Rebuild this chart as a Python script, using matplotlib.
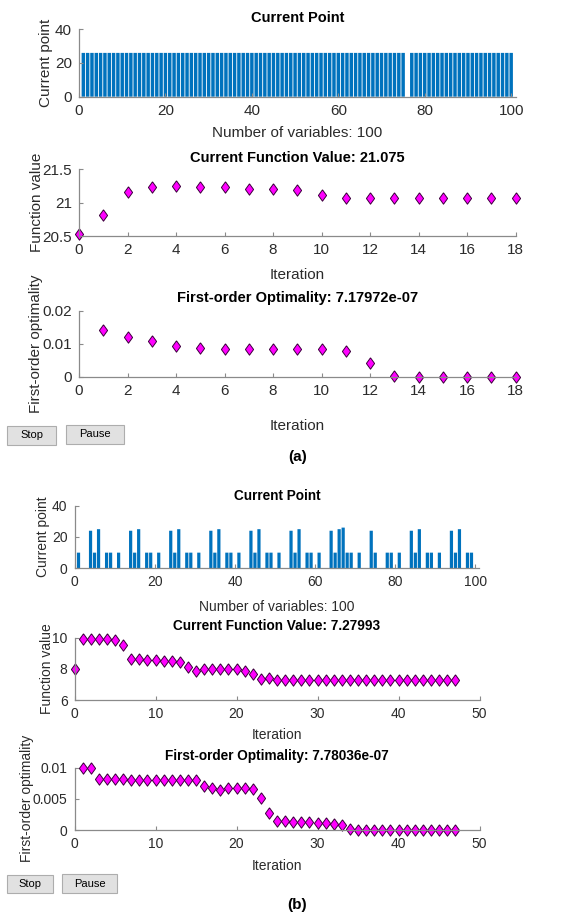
import matplotlib
matplotlib.use("Agg")
import matplotlib.pyplot as plt
from matplotlib.patches import Rectangle
from matplotlib.ticker import FuncFormatter
import numpy as np

# ---- run (a) ----
point_a = [
    26, 26, 26, 26, 26, 26, 26, 26, 26, 26,
    26, 26, 26, 26, 26, 26, 26, 26, 26, 26,
    26, 26, 26, 26, 26, 26, 26, 26, 26, 26,
    26, 26, 26, 26, 26, 26, 26, 26, 26, 26,
    26, 26, 26, 26, 26, 26, 26, 26, 26, 26,
    26, 26, 26, 26, 26, 26, 26, 26, 26, 26,
    26, 26, 26, 26, 26, 26, 26, 26, 26, 26,
    26, 26, 26, 26, 26, 0, 26, 26, 26, 26,
    26, 26, 26, 26, 26, 26, 26, 26, 26, 26,
    26, 26, 26, 26, 26, 26, 26, 26, 26, 26,
]
fval_a = [20.53, 20.81, 21.16, 21.24, 21.25, 21.24, 21.23, 21.21, 21.21, 21.19,
          21.11, 21.075, 21.075, 21.075, 21.075, 21.075, 21.075, 21.075, 21.075]
optim_a = [0.0143, 0.0120, 0.0108, 0.0093, 0.0086, 0.0085, 0.0085, 0.0085, 0.0085,
           0.0085, 0.0079, 0.0043, 0.0002, 5e-05, 2e-05, 1e-05, 5e-06, 7.17972e-07]

# ---- run (b) ----
point_b = [
    10, 0, 0, 24, 10, 25, 0, 10, 10, 0,
    10, 0, 0, 24, 10, 25, 0, 10, 10, 0,
    10, 0, 0, 24, 10, 25, 0, 10, 10, 0,
    10, 0, 0, 24, 10, 25, 0, 10, 10, 0,
    10, 0, 0, 24, 10, 25, 0, 10, 10, 0,
    10, 0, 0, 24, 10, 25, 0, 10, 10, 0,
    10, 0, 0, 24, 10, 25, 26, 10, 10, 0,
    10, 0, 0, 24, 10, 0, 0, 10, 10, 0,
    10, 0, 0, 24, 10, 25, 0, 10, 10, 0,
    10, 0, 0, 24, 10, 25, 0, 10, 10, 0,
]
fval_b = [8.0, 9.9, 9.9, 9.9, 9.9, 9.85, 9.55, 8.64, 8.64, 8.6,
          8.58, 8.49, 8.49, 8.41, 8.11, 7.83, 7.96, 7.96, 7.96, 7.96,
          7.96, 7.89, 7.68, 7.32, 7.42, 7.28, 7.28, 7.28, 7.28, 7.28,
          7.28, 7.28, 7.28, 7.28, 7.28, 7.28, 7.28, 7.28, 7.28, 7.28,
          7.28, 7.28, 7.28, 7.28, 7.28, 7.28, 7.28, 7.27993]
optim_b = [0.0099, 0.0099, 0.0082, 0.0082, 0.0082, 0.0082, 0.0080, 0.0080, 0.0080, 0.0080,
           0.0080, 0.0080, 0.0080, 0.0080, 0.0080, 0.0070, 0.0067, 0.0065, 0.0067, 0.0067,
           0.0067, 0.0066, 0.0051, 0.0027, 0.0015, 0.0015, 0.0013, 0.0013, 0.0013, 0.0011,
           0.0011, 0.0010, 0.0008, 1e-04, 8e-05, 6e-05, 5e-05, 4e-05, 3e-05, 2e-05,
           2e-05, 1e-05, 1e-05, 5e-06, 3e-06, 2e-06, 7.78036e-07]

W, H = 581, 914
plt.rcParams["font.family"] = ["Liberation Sans", "DejaVu Sans"]
fig = plt.figure(figsize=(W / 100, H / 100), dpi=100)

AXIS_GRAY = "#8a8a8a"
TEXT_GRAY = "#2b2b2b"
BAR_BLUE = "#0072BD"
# MATLAB-like diamond, a bit taller than wide
diamond = [(0, 1), (0.72, 0), (0, -1), (-0.72, 0), (0, 1)]


def make_axes(box, fs):
    x0, y0, x1, y1 = box
    ax = fig.add_axes([x0 / W, 1 - y1 / H, (x1 - x0) / W, (y1 - y0) / H])
    ax.spines[["top", "right"]].set_visible(False)
    for s in ("left", "bottom"):
        ax.spines[s].set_color(AXIS_GRAY)
        ax.spines[s].set_linewidth(0.9)
    ax.tick_params(direction="in", length=3, width=0.8, color=AXIS_GRAY,
                   labelcolor=TEXT_GRAY, labelsize=fs, pad=5)
    fmt = FuncFormatter(lambda v, p: f"{v:g}")
    ax.xaxis.set_major_formatter(fmt)
    ax.yaxis.set_major_formatter(fmt)
    return ax


def decorate(ax, box, title, xlabel, ylabel, title_y, xlabel_y, ylabel_x, fs, fs_title):
    x0, y0, x1, y1 = box
    ax.set_title(title, y=(y1 - title_y) / (y1 - y0), pad=0, va="center",
                 fontsize=fs_title, fontweight="bold", color="black")
    ax.set_xlabel(xlabel, fontsize=fs, color=TEXT_GRAY)
    ax.xaxis.set_label_coords(0.5, (y1 - xlabel_y) / (y1 - y0))
    ax.xaxis.label.set_va("center")
    ax.set_ylabel(ylabel, fontsize=fs, color=TEXT_GRAY)
    ax.yaxis.set_label_coords((ylabel_x - x0) / (x1 - x0), 0.5)
    ax.yaxis.label.set_va("center")


def diamonds(ax, x, y):
    ax.plot(x, y, linestyle="none", marker=diamond, markersize=8.2,
            markerfacecolor="#ff00ff", markeredgecolor="#3b003b",
            markeredgewidth=0.7, clip_on=False)


def button(x0, y0, x1, y1, text):
    fig.add_artist(Rectangle((x0 / W, 1 - y1 / H), (x1 - x0) / W, (y1 - y0) / H,
                             transform=fig.transFigure, facecolor="#e1e1e1",
                             edgecolor="#adadad", linewidth=0.8))
    fig.text((x0 + x1) / 2 / W, 1 - (y0 + y1) / 2 / H, text,
             ha="center", va="center", fontsize=8, color="black")


def panel(point, fval, optim, boxes, layout, fs, fs_title, fx_ticks, fy_ticks, oy_ticks, buttons, tag):
    # current point bars
    box = boxes[0]
    ax = make_axes(box, fs)
    bars = ax.bar(np.arange(1, len(point) + 1), point, width=0.8, color=BAR_BLUE, linewidth=0)
    for b in bars:
        b.set_snap(False)
    ax.set_xlim(0, len(point) + 1)
    ax.set_ylim(0, 40)
    ax.set_xticks([0, 20, 40, 60, 80, 100])
    ax.set_yticks([0, 20, 40])
    decorate(ax, box, "Current Point", f"Number of variables: {len(point)}",
             "Current point", *layout[0], fs, fs_title)

    # function value per iteration
    box = boxes[1]
    ax = make_axes(box, fs)
    diamonds(ax, np.arange(len(fval)), fval)
    ax.set_xlim(fx_ticks[0], fx_ticks[-1])
    ax.set_xticks(fx_ticks)
    ax.set_ylim(fy_ticks[0], fy_ticks[-1])
    ax.set_yticks(fy_ticks)
    decorate(ax, box, f"Current Function Value: {fval[-1]:g}", "Iteration",
             "Function value", *layout[1], fs, fs_title)

    # first-order optimality, starts at iteration 1
    box = boxes[2]
    ax = make_axes(box, fs)
    diamonds(ax, np.arange(1, len(optim) + 1), optim)
    ax.set_xlim(fx_ticks[0], fx_ticks[-1])
    ax.set_xticks(fx_ticks)
    ax.set_ylim(oy_ticks[0], oy_ticks[-1])
    ax.set_yticks(oy_ticks)
    decorate(ax, box, f"First-order Optimality: {optim[-1]:g}", "Iteration",
             "First-order optimality", *layout[2], fs, fs_title)

    button(*buttons[0], "Stop")
    button(*buttons[1], "Pause")
    fig.text(tag[0] / W, 1 - tag[1] / H, tag[2], ha="center", va="center",
             fontsize=11, fontweight="bold", color="black")


panel(point_a, fval_a, optim_a,
      boxes=[(79, 29.3, 515.5, 96.7), (79, 169.3, 515.5, 236), (79, 311, 515.5, 376.7)],
      layout=[(18.3, 133, 46), (158.3, 275, 37), (298.3, 425.7, 36)],
      fs=11, fs_title=10.5,
      fx_ticks=list(range(0, 19, 2)), fy_ticks=[20.5, 21, 21.5], oy_ticks=[0, 0.01, 0.02],
      buttons=[(7, 425.7, 56, 445), (66, 424.7, 124, 444.3)],
      tag=(298, 456.7, "(a)"))

panel(point_b, fval_b, optim_b,
      boxes=[(74.5, 505.7, 479.5, 568.3), (74.5, 637.7, 479.5, 700), (74.5, 767.7, 479.5, 830)],
      layout=[(496, 606.7, 43), (625.7, 735, 46.7), (755.7, 865.7, 27.5)],
      fs=10, fs_title=9.8,
      fx_ticks=[0, 10, 20, 30, 40, 50], fy_ticks=[6, 8, 10], oy_ticks=[0, 0.005, 0.01],
      buttons=[(7, 875, 53, 893.3), (62, 874.3, 117, 893.3)],
      tag=(297, 905, "(b)"))

fig.savefig("out.png", dpi=100)
